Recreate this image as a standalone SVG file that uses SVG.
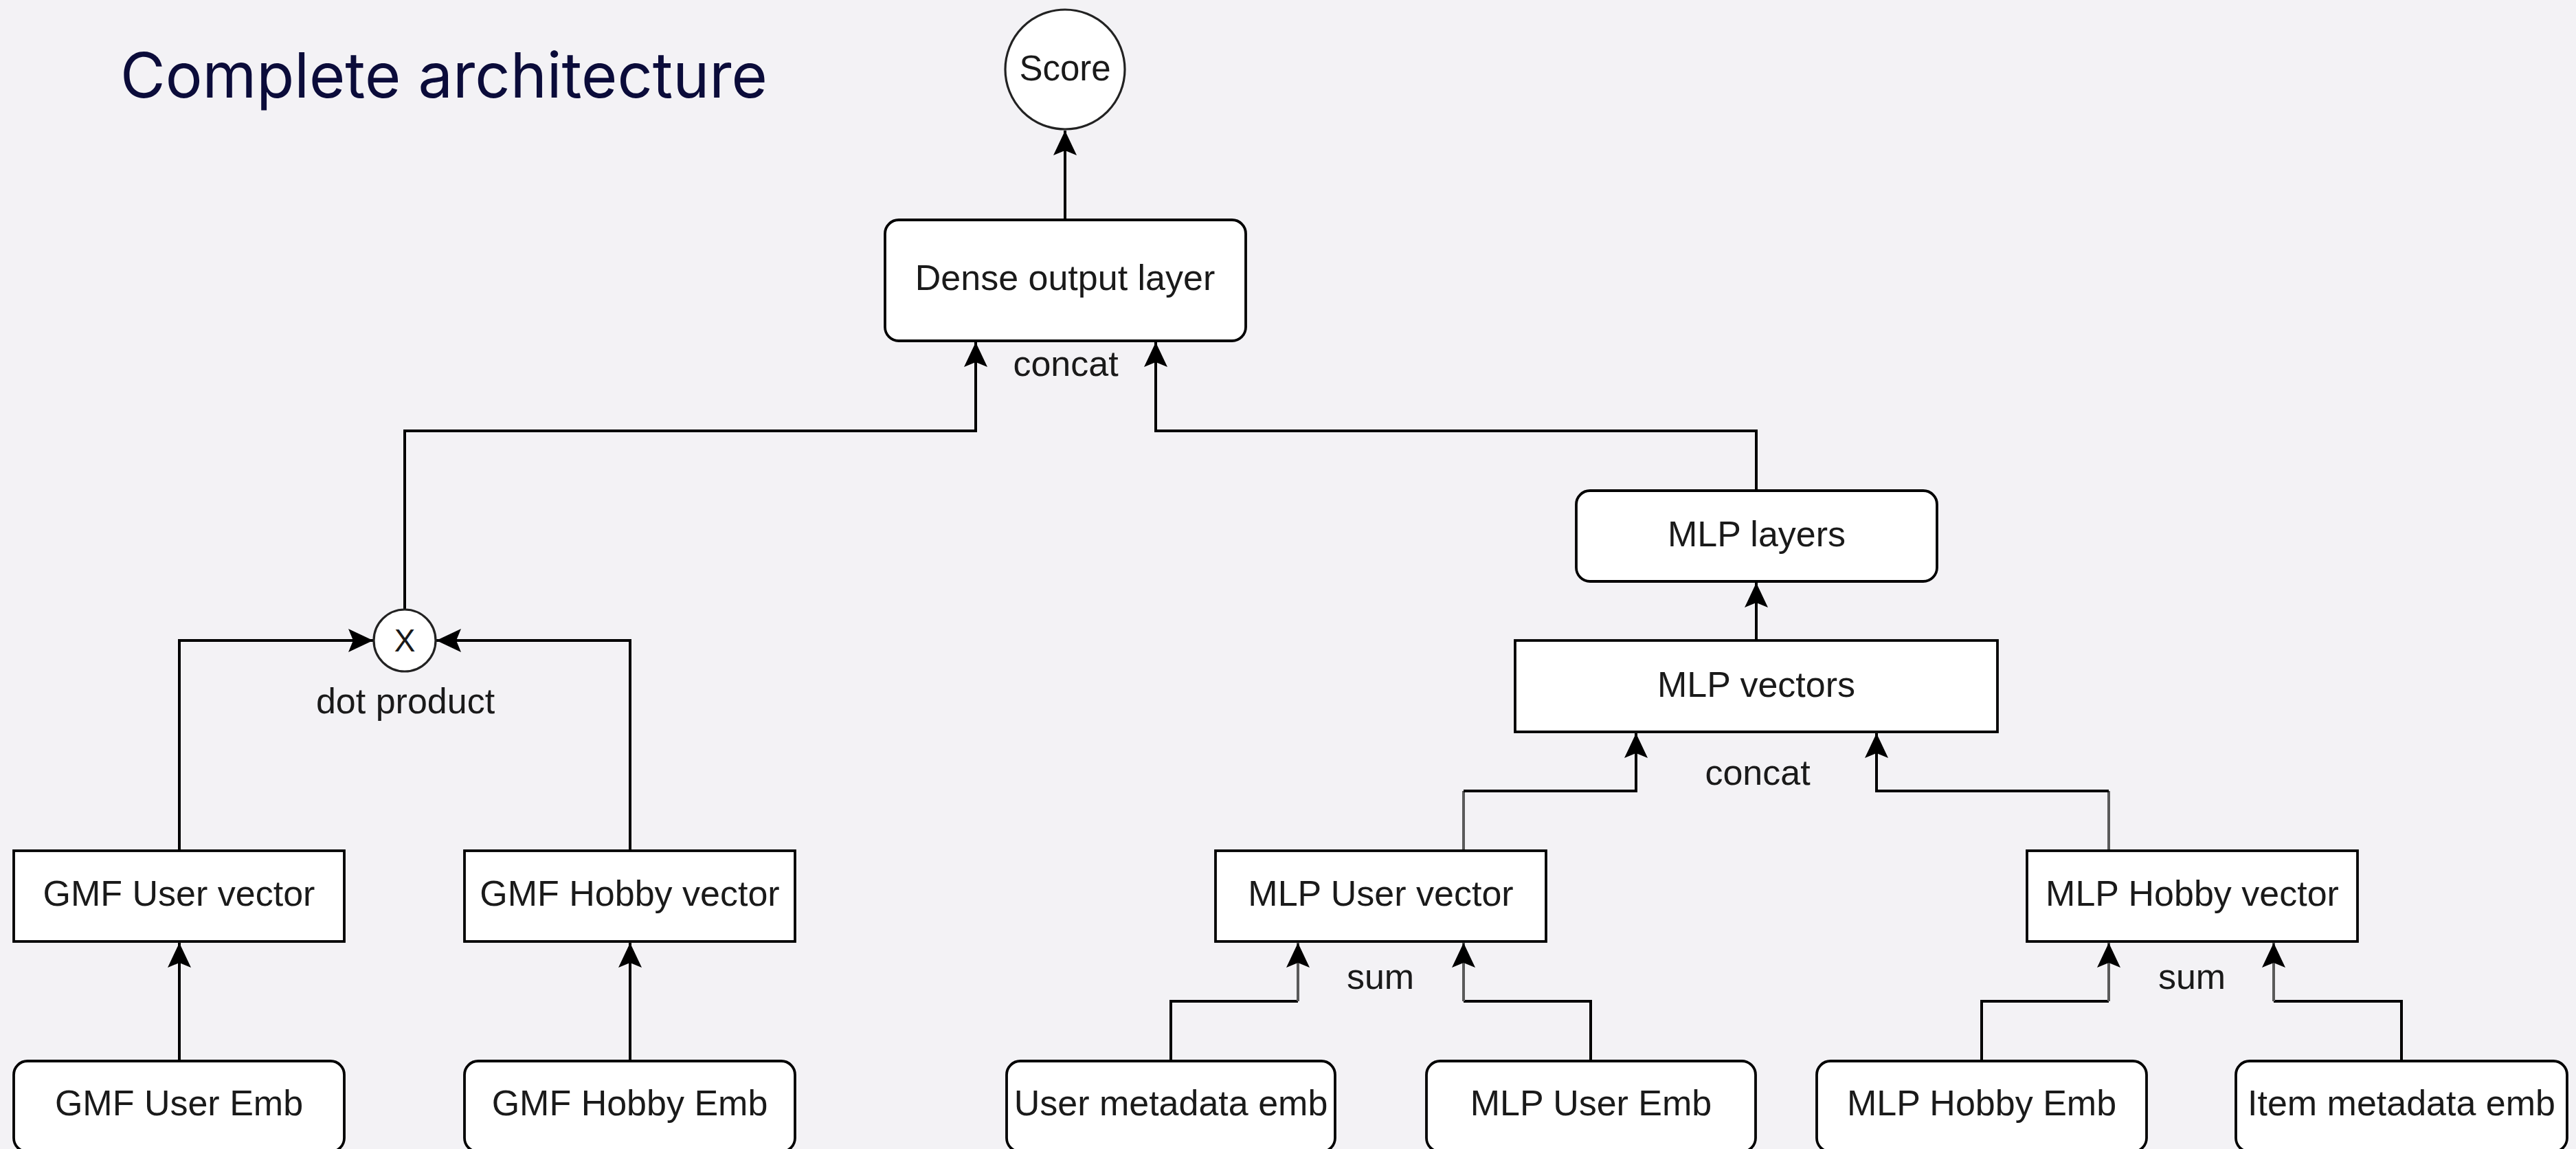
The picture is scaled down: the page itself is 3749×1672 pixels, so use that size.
<svg xmlns="http://www.w3.org/2000/svg" width="3749" height="1672" viewBox="0 0 3749 1672">
<defs>
<marker id="arr" markerUnits="userSpaceOnUse" markerWidth="44" markerHeight="44" viewBox="-38 -22 44 44" refX="0" refY="0" orient="auto">
<path d="M0,0 L-36,-17 L-29,0 L-36,17 Z" fill="#000"/>
</marker>
<style>
.bg{fill:#f3f2f5}
.box{fill:#fff;stroke:#000;stroke-width:3.8}
.circ{fill:#fff;stroke:#222;stroke-width:3.2}
.lbl{font-family:"Liberation Sans",Arial,sans-serif;font-size:52px;fill:#1a1a1a;text-anchor:middle}
.edge{fill:none;stroke:#000;stroke-width:4}
.edge-g{fill:none;stroke:#5a5a5a;stroke-width:4}
.title{font-family:Inter,"Liberation Sans",sans-serif;font-size:91px;fill:#0b0c3a}
</style>
</defs>
<rect class="bg" x="0" y="0" width="3749" height="1672"/>
<text class="title" x="175" y="142" textLength="942" lengthAdjust="spacingAndGlyphs">Complete architecture</text>

<g id="connectors">
<path class="edge" d="M1550,320 V190" marker-end="url(#arr)"/>
<path class="edge" d="M589,887 V627 H1420 V498" marker-end="url(#arr)"/>
<path class="edge" d="M2556,714 V627 H1682 V498" marker-end="url(#arr)"/>
<path class="edge" d="M261,1238 V932 H543" marker-end="url(#arr)"/>
<path class="edge" d="M917,1238 V932 H635" marker-end="url(#arr)"/>
<path class="edge" d="M261,1544 V1372" marker-end="url(#arr)"/>
<path class="edge" d="M917,1544 V1372" marker-end="url(#arr)"/>
<path class="edge" d="M2556,932 V848" marker-end="url(#arr)"/>
<g id="e-mlpuser-vectors">
<path class="edge-g" d="M2130,1238 V1151"/>
<path class="edge" d="M2130,1151 H2381 V1067" marker-end="url(#arr)"/>
</g>
<g id="e-mlphobby-vectors">
<path class="edge-g" d="M3069,1238 V1151"/>
<path class="edge" d="M3069,1151 H2731 V1067" marker-end="url(#arr)"/>
</g>
<g id="e-usermeta-user">
<path class="edge" d="M1704,1544 V1457 H1889"/>
<path class="edge-g" d="M1889,1457 V1372" marker-end="url(#arr)"/>
</g>
<g id="e-mlpuseremb-user">
<path class="edge" d="M2315,1544 V1457 H2130"/>
<path class="edge-g" d="M2130,1457 V1372" marker-end="url(#arr)"/>
</g>
<g id="e-mlphobbyemb-hobby">
<path class="edge" d="M2884,1544 V1457 H3069"/>
<path class="edge-g" d="M3069,1457 V1372" marker-end="url(#arr)"/>
</g>
<g id="e-itemmeta-hobby">
<path class="edge" d="M3495,1544 V1457 H3309"/>
<path class="edge-g" d="M3309,1457 V1372" marker-end="url(#arr)"/>
</g>
<text class="lbl" x="1551" y="547">concat</text>
<text class="lbl" x="590" y="1038">dot product</text>
<text class="lbl" x="2558" y="1142">concat</text>
<text class="lbl" x="2009" y="1439">sum</text>
<text class="lbl" x="3190" y="1439">sum</text>
</g>

<g id="score"><circle class="circ" cx="1550" cy="101" r="87"/><text class="lbl" x="1550" y="117" style="font-size:51px">Score</text></g>
<g id="dense"><rect class="box" x="1288" y="320" width="525" height="176" rx="20"/><text class="lbl" x="1550" y="422">Dense output layer</text></g>
<g id="dot"><circle class="circ" cx="589" cy="932" r="45"/><text class="lbl" x="589" y="948" style="font-size:46px">X</text></g>
<g id="gmf-user-vector"><rect class="box" x="20" y="1238" width="481" height="132"/><text class="lbl" x="260.5" y="1318">GMF User vector</text></g>
<g id="gmf-hobby-vector"><rect class="box" x="676" y="1238" width="481" height="132"/><text class="lbl" x="916.5" y="1318">GMF Hobby vector</text></g>
<g id="gmf-user-emb"><rect class="box" x="20" y="1544" width="481" height="132" rx="20"/><text class="lbl" x="260.5" y="1623">GMF User Emb</text></g>
<g id="gmf-hobby-emb"><rect class="box" x="676" y="1544" width="481" height="132" rx="20"/><text class="lbl" x="916.5" y="1623">GMF Hobby Emb</text></g>
<g id="mlp-layers"><rect class="box" x="2294" y="714" width="525" height="132" rx="20"/><text class="lbl" x="2556.5" y="795">MLP layers</text></g>
<g id="mlp-vectors"><rect class="box" x="2205" y="932" width="702" height="133"/><text class="lbl" x="2556" y="1014">MLP vectors</text></g>
<g id="mlp-user-vector"><rect class="box" x="1769" y="1238" width="481" height="132"/><text class="lbl" x="2009.5" y="1318">MLP User vector</text></g>
<g id="mlp-hobby-vector"><rect class="box" x="2950" y="1238" width="481" height="132"/><text class="lbl" x="3190.5" y="1318">MLP Hobby vector</text></g>
<g id="user-metadata-emb"><rect class="box" x="1465" y="1544" width="478" height="132" rx="20"/><text class="lbl" x="1704" y="1623">User metadata emb</text></g>
<g id="mlp-user-emb"><rect class="box" x="2076" y="1544" width="479" height="132" rx="20"/><text class="lbl" x="2315.5" y="1623">MLP User Emb</text></g>
<g id="mlp-hobby-emb"><rect class="box" x="2644" y="1544" width="480" height="132" rx="20"/><text class="lbl" x="2884" y="1623">MLP Hobby Emb</text></g>
<g id="item-metadata-emb"><rect class="box" x="3254" y="1544" width="482" height="132" rx="20"/><text class="lbl" x="3495" y="1623">Item metadata emb</text></g>
</svg>
